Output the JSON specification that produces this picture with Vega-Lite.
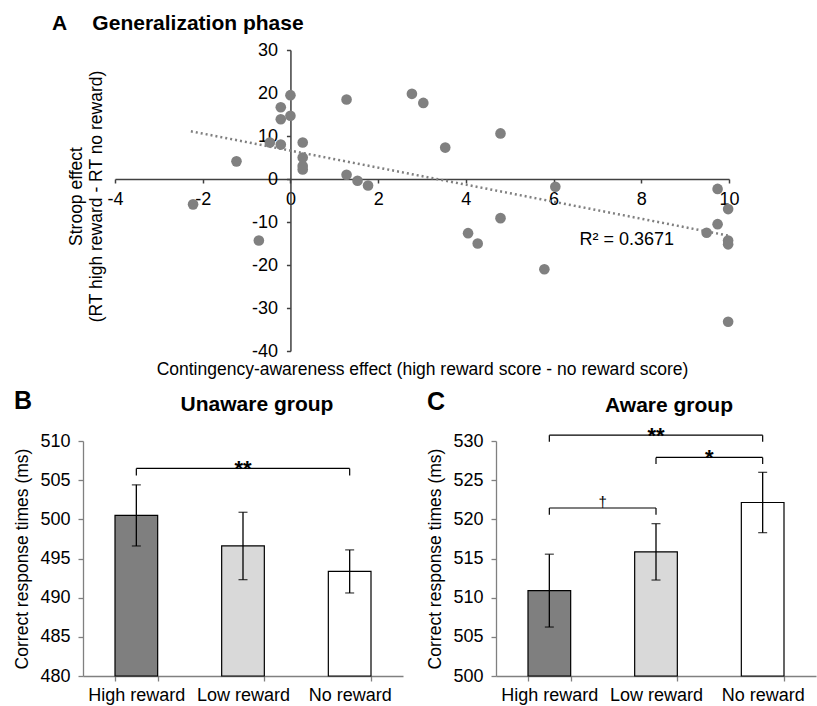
{
  "$schema": "https://vega.github.io/schema/vega-lite/v6.json",
  "padding": {"left": 12, "top": 13, "right": 1, "bottom": 1},
  "background": "white",
  "spacing": 11,
  "config": {
    "font": "Liberation Sans",
    "view": {"stroke": null},
    "axis": {"grid": false, "labelColor": "black", "titleColor": "black", "titleFontWeight": "normal", "labelFont": "Liberation Sans", "titleFont": "Liberation Sans", "labelFontSize": 18, "titleFontSize": 17.5, "labelOverlap": false, "labelFlush": false, "domainColor": "#808080", "tickColor": "#808080", "domainWidth": 1.3, "tickWidth": 1.3},
    "title": {"color": "black", "font": "Liberation Sans"}
  },
  "datasets": {
    "points": [
      {"awareness": 0.0, "stroop": 19.5}, {"awareness": -0.22, "stroop": 16.7}, {"awareness": -0.22, "stroop": 13.9},
      {"awareness": 0.0, "stroop": 14.7}, {"awareness": -0.47, "stroop": 8.5}, {"awareness": -0.22, "stroop": 8.0},
      {"awareness": 0.28, "stroop": 8.5}, {"awareness": 0.28, "stroop": 5.0}, {"awareness": 0.28, "stroop": 3.0},
      {"awareness": 0.28, "stroop": 2.2}, {"awareness": -1.23, "stroop": 4.1}, {"awareness": 1.28, "stroop": 18.5},
      {"awareness": 1.28, "stroop": 1.0}, {"awareness": 1.53, "stroop": -0.4}, {"awareness": 1.77, "stroop": -1.5},
      {"awareness": 2.77, "stroop": 19.8}, {"awareness": 3.03, "stroop": 17.7}, {"awareness": 3.53, "stroop": 7.3},
      {"awareness": 4.79, "stroop": 10.6}, {"awareness": 6.04, "stroop": -1.8}, {"awareness": 9.74, "stroop": -2.3},
      {"awareness": -2.22, "stroop": -5.9}, {"awareness": -0.72, "stroop": -14.3}, {"awareness": 4.79, "stroop": -9.1},
      {"awareness": 4.05, "stroop": -12.6}, {"awareness": 4.27, "stroop": -15.0}, {"awareness": 5.79, "stroop": -21.0},
      {"awareness": 9.98, "stroop": -7.0}, {"awareness": 9.74, "stroop": -10.5}, {"awareness": 9.49, "stroop": -12.5},
      {"awareness": 9.98, "stroop": -14.3}, {"awareness": 9.98, "stroop": -15.2}, {"awareness": 9.98, "stroop": -33.2}
    ],
    "trend": [{"awareness": -2.27, "stroop": 11.1}, {"awareness": 10, "stroop": -13.2}],
    "rsq": [{"awareness": 6.59, "stroop": -14.2, "label": "R² = 0.3671"}],
    "unaware": [
      {"condition": "High reward", "mean": 500.5, "se": 3.9},
      {"condition": "Low reward", "mean": 496.6, "se": 4.3},
      {"condition": "No reward", "mean": 493.35, "se": 2.75}
    ],
    "aware": [
      {"condition": "High reward", "mean": 510.9, "se": 4.65},
      {"condition": "Low reward", "mean": 515.85, "se": 3.6},
      {"condition": "No reward", "mean": 522.15, "se": 3.85}
    ],
    "unawareSig": [
      {"from": "High reward", "to": "No reward", "top": 506.5, "bottom": 505.6, "label": "**", "at": "Low reward", "between": false}
    ],
    "awareSig": [
      {"from": "High reward", "to": "No reward", "top": 530.75, "bottom": 529.9, "label": "**", "at": "Low reward", "between": false},
      {"from": "Low reward", "to": "No reward", "top": 527.9, "bottom": 527.05, "label": "*", "at": "Low reward", "between": true},
      {"from": "High reward", "to": "Low reward", "top": 521.45, "bottom": 520.6, "label": "†", "at": "High reward", "between": true}
    ]
  },
  "vconcat": [
    {
      "spacing": 0,
      "hconcat": [
        {"width": 40, "height": 1, "data": {"values": []}, "mark": "point"},
        {
          "width": 614,
          "height": 301,
          "title": {"text": "A\u2003\u2009Generalization phase", "anchor": "start", "frame": "group", "dx": -63, "fontSize": 21, "fontWeight": "bold", "baseline": "alphabetic", "offset": -10},
          "resolve": {"axis": {"x": "independent", "y": "independent"}},
          "layer": [
            {
              "data": {"name": "points"},
              "mark": {"type": "circle", "size": 113, "color": "#808080", "opacity": 1},
              "encoding": {
                "x": {"field": "awareness", "type": "quantitative",
                  "scale": {"domain": [-4, 10], "nice": false, "zero": false},
                  "axis": {"orient": "bottom", "offset": -172, "values": [-4, -2, 0, 2, 4, 6, 8, 10], "labelExpr": "'' + datum.value", "tickSize": 4, "labelPadding": 7, "domainColor": "#404040", "domainWidth": 1.5, "tickColor": "#404040", "tickWidth": 1.5, "title": null}},
                "y": {"field": "stroop", "type": "quantitative",
                  "scale": {"domain": [-40, 30], "nice": false, "zero": false},
                  "axis": {"orient": "left", "labels": false, "ticks": false, "domain": false,
                    "title": ["Stroop effect", "(RT high reward - RT no reward)"], "titleLineHeight": 20, "titlePadding": 10, "titleY": 146}}
              }
            },
            {
              "data": {"name": "trend"},
              "mark": {"type": "line", "strokeDash": [2, 3], "color": "#808080", "strokeWidth": 2.5},
              "encoding": {
                "x": {"field": "awareness", "type": "quantitative",
                  "axis": {"orient": "bottom", "labels": false, "ticks": false, "domain": false,
                    "title": "Contingency-awareness effect (high reward score - no reward score)", "titlePadding": 9}},
                "y": {"field": "stroop", "type": "quantitative",
                  "axis": {"orient": "left", "offset": -175.43, "values": [-40, -30, -20, -10, 0, 10, 20, 30], "labelExpr": "'' + datum.value", "tickSize": 4, "labelPadding": 9, "domainColor": "#404040", "domainWidth": 1.5, "tickColor": "#404040", "tickWidth": 1.5, "title": null}}
              }
            },
            {
              "data": {"name": "rsq"},
              "mark": {"type": "text", "align": "left", "baseline": "middle", "fontSize": 18, "color": "black"},
              "encoding": {
                "x": {"field": "awareness", "type": "quantitative", "axis": null},
                "y": {"field": "stroop", "type": "quantitative", "axis": null},
                "text": {"field": "label"}
              }
            }
          ]
        }
      ]
    },
    {
      "spacing": 0,
      "hconcat": [
        {"width": 1, "height": 1, "data": {"values": []}, "mark": "point"},
        {
          "spacing": 23,
          "hconcat": [
            {
              "title": {"text": "B", "anchor": "start", "frame": "bounds", "fontSize": 25, "fontWeight": "bold", "baseline": "alphabetic", "offset": -40},
              "vconcat": [
                {
                  "width": 320,
                  "height": 235,
                  "title": {"text": "Unaware group", "anchor": "middle", "frame": "group", "dx": 14, "fontSize": 21, "fontWeight": "bold", "baseline": "alphabetic", "offset": 0},
                  "layer": [
                    {
                      "data": {"name": "unaware"},
                      "mark": {"type": "bar", "stroke": "black", "strokeWidth": 1.2},
                      "encoding": {
                        "x": {"field": "condition", "type": "nominal", "title": null,
                          "scale": {"domain": ["High reward", "Low reward", "No reward"], "paddingInner": 0.6, "paddingOuter": 0.3},
                          "axis": {"tickBand": "extent", "tickSize": 5, "labelPadding": 5, "labelAngle": 0}},
                        "y": {"field": "mean", "type": "quantitative", "title": "Correct response times (ms)",
                          "scale": {"domain": [480, 510], "nice": false, "zero": false},
                          "axis": {"values": [480, 485, 490, 495, 500, 505, 510], "tickSize": 5, "labelPadding": 8, "titlePadding": 8}},
                        "y2": {"datum": 480},
                        "fill": {"field": "condition", "type": "nominal", "legend": null,
                          "scale": {"domain": ["High reward", "Low reward", "No reward"], "range": ["#7f7f7f", "#d9d9d9", "#ffffff"]}}
                      }
                    },
                    {
                      "data": {"name": "unaware"},
                      "mark": {"type": "errorbar", "color": "black", "thickness": 1.3, "size": 9, "ticks": true},
                      "encoding": {
                        "x": {"field": "condition", "type": "nominal", "title": null, "scale": {"domain": ["High reward", "Low reward", "No reward"]},
                          "axis": {"tickBand": "extent", "tickSize": 5, "labelPadding": 5, "labelAngle": 0}},
                        "y": {"field": "mean", "type": "quantitative", "title": "Correct response times (ms)",
                          "axis": {"values": [480, 485, 490, 495, 500, 505, 510], "tickSize": 5, "labelPadding": 8, "titlePadding": 8}},
                        "yError": {"field": "se"}
                      }
                    },
                    {
                      "data": {"name": "unawareSig"},
                      "mark": {"type": "rule", "color": "black", "strokeWidth": 1.2},
                      "encoding": {
                        "x": {"field": "from", "type": "nominal", "title": null, "scale": {"domain": ["High reward", "Low reward", "No reward"]},
                          "axis": {"tickBand": "extent", "tickSize": 5, "labelPadding": 5, "labelAngle": 0}},
                        "x2": {"field": "to"},
                        "y": {"field": "top", "type": "quantitative", "title": "Correct response times (ms)",
                          "axis": {"values": [480, 485, 490, 495, 500, 505, 510], "tickSize": 5, "labelPadding": 8, "titlePadding": 8}}
                      }
                    },
                    {
                      "data": {"name": "unawareSig"},
                      "mark": {"type": "rule", "color": "black", "strokeWidth": 1.2},
                      "encoding": {
                        "x": {"field": "from", "type": "nominal", "title": null, "scale": {"domain": ["High reward", "Low reward", "No reward"]},
                          "axis": {"tickBand": "extent", "tickSize": 5, "labelPadding": 5, "labelAngle": 0}},
                        "y": {"field": "top", "type": "quantitative", "title": "Correct response times (ms)",
                          "axis": {"values": [480, 485, 490, 495, 500, 505, 510], "tickSize": 5, "labelPadding": 8, "titlePadding": 8}},
                        "y2": {"field": "bottom"}
                      }
                    },
                    {
                      "data": {"name": "unawareSig"},
                      "mark": {"type": "rule", "color": "black", "strokeWidth": 1.2},
                      "encoding": {
                        "x": {"field": "to", "type": "nominal", "title": null, "scale": {"domain": ["High reward", "Low reward", "No reward"]},
                          "axis": {"tickBand": "extent", "tickSize": 5, "labelPadding": 5, "labelAngle": 0}},
                        "y": {"field": "top", "type": "quantitative", "title": "Correct response times (ms)",
                          "axis": {"values": [480, 485, 490, 495, 500, 505, 510], "tickSize": 5, "labelPadding": 8, "titlePadding": 8}},
                        "y2": {"field": "bottom"}
                      }
                    },
                    {
                      "data": {"name": "unawareSig"},
                      "mark": {"type": "text", "fontSize": 22, "fontWeight": "bold", "baseline": "alphabetic", "dy": 8, "color": "black"},
                      "encoding": {
                        "x": {"field": "at", "type": "nominal", "title": null, "scale": {"domain": ["High reward", "Low reward", "No reward"]},
                          "axis": {"tickBand": "extent", "tickSize": 5, "labelPadding": 5, "labelAngle": 0}},
                        "y": {"field": "top", "type": "quantitative", "title": "Correct response times (ms)",
                          "axis": {"values": [480, 485, 490, 495, 500, 505, 510], "tickSize": 5, "labelPadding": 8, "titlePadding": 8}},
                        "text": {"field": "label"}
                      }
                    }
                  ]
                }
              ]
            },
            {
              "title": {"text": "C", "anchor": "start", "frame": "bounds", "fontSize": 25, "fontWeight": "bold", "baseline": "alphabetic", "offset": -40},
              "vconcat": [
                {
                  "width": 320,
                  "height": 235,
                  "title": {"text": "Aware group", "anchor": "middle", "frame": "group", "dx": 13, "fontSize": 21, "fontWeight": "bold", "baseline": "alphabetic", "offset": -8},
                  "layer": [
                    {
                      "data": {"name": "aware"},
                      "mark": {"type": "bar", "stroke": "black", "strokeWidth": 1.2},
                      "encoding": {
                        "x": {"field": "condition", "type": "nominal", "title": null,
                          "scale": {"domain": ["High reward", "Low reward", "No reward"], "paddingInner": 0.6, "paddingOuter": 0.3},
                          "axis": {"tickBand": "extent", "tickSize": 5, "labelPadding": 5, "labelAngle": 0}},
                        "y": {"field": "mean", "type": "quantitative", "title": "Correct response times (ms)",
                          "scale": {"domain": [500, 530], "nice": false, "zero": false},
                          "axis": {"values": [500, 505, 510, 515, 520, 525, 530], "tickSize": 5, "labelPadding": 8, "titlePadding": 8}},
                        "y2": {"datum": 500},
                        "fill": {"field": "condition", "type": "nominal", "legend": null,
                          "scale": {"domain": ["High reward", "Low reward", "No reward"], "range": ["#7f7f7f", "#d9d9d9", "#ffffff"]}}
                      }
                    },
                    {
                      "data": {"name": "aware"},
                      "mark": {"type": "errorbar", "color": "black", "thickness": 1.3, "size": 9, "ticks": true},
                      "encoding": {
                        "x": {"field": "condition", "type": "nominal", "title": null, "scale": {"domain": ["High reward", "Low reward", "No reward"]},
                          "axis": {"tickBand": "extent", "tickSize": 5, "labelPadding": 5, "labelAngle": 0}},
                        "y": {"field": "mean", "type": "quantitative", "title": "Correct response times (ms)",
                          "axis": {"values": [500, 505, 510, 515, 520, 525, 530], "tickSize": 5, "labelPadding": 8, "titlePadding": 8}},
                        "yError": {"field": "se"}
                      }
                    },
                    {
                      "data": {"name": "awareSig"},
                      "mark": {"type": "rule", "color": "black", "strokeWidth": 1.2},
                      "encoding": {
                        "x": {"field": "from", "type": "nominal", "title": null, "scale": {"domain": ["High reward", "Low reward", "No reward"]},
                          "axis": {"tickBand": "extent", "tickSize": 5, "labelPadding": 5, "labelAngle": 0}},
                        "x2": {"field": "to"},
                        "y": {"field": "top", "type": "quantitative", "title": "Correct response times (ms)",
                          "axis": {"values": [500, 505, 510, 515, 520, 525, 530], "tickSize": 5, "labelPadding": 8, "titlePadding": 8}}
                      }
                    },
                    {
                      "data": {"name": "awareSig"},
                      "mark": {"type": "rule", "color": "black", "strokeWidth": 1.2},
                      "encoding": {
                        "x": {"field": "from", "type": "nominal", "title": null, "scale": {"domain": ["High reward", "Low reward", "No reward"]},
                          "axis": {"tickBand": "extent", "tickSize": 5, "labelPadding": 5, "labelAngle": 0}},
                        "y": {"field": "top", "type": "quantitative", "title": "Correct response times (ms)",
                          "axis": {"values": [500, 505, 510, 515, 520, 525, 530], "tickSize": 5, "labelPadding": 8, "titlePadding": 8}},
                        "y2": {"field": "bottom"}
                      }
                    },
                    {
                      "data": {"name": "awareSig"},
                      "mark": {"type": "rule", "color": "black", "strokeWidth": 1.2},
                      "encoding": {
                        "x": {"field": "to", "type": "nominal", "title": null, "scale": {"domain": ["High reward", "Low reward", "No reward"]},
                          "axis": {"tickBand": "extent", "tickSize": 5, "labelPadding": 5, "labelAngle": 0}},
                        "y": {"field": "top", "type": "quantitative", "title": "Correct response times (ms)",
                          "axis": {"values": [500, 505, 510, 515, 520, 525, 530], "tickSize": 5, "labelPadding": 8, "titlePadding": 8}},
                        "y2": {"field": "bottom"}
                      }
                    },
                    {
                      "data": {"name": "awareSig"},
                      "transform": [{"filter": "datum.between == false"}],
                      "mark": {"type": "text", "fontSize": 22, "fontWeight": "bold", "baseline": "alphabetic", "dy": 8, "color": "black"},
                      "encoding": {
                        "x": {"field": "at", "type": "nominal", "title": null, "scale": {"domain": ["High reward", "Low reward", "No reward"]},
                          "axis": {"tickBand": "extent", "tickSize": 5, "labelPadding": 5, "labelAngle": 0}},
                        "y": {"field": "top", "type": "quantitative", "title": "Correct response times (ms)",
                          "axis": {"values": [500, 505, 510, 515, 520, 525, 530], "tickSize": 5, "labelPadding": 8, "titlePadding": 8}},
                        "text": {"field": "label"}
                      }
                    },
                    {
                      "data": {"name": "awareSig"},
                      "transform": [{"filter": "datum.label == '*'"}],
                      "mark": {"type": "text", "fontSize": 22, "fontWeight": "bold", "baseline": "alphabetic", "dy": 8, "dx": 53.3, "color": "black"},
                      "encoding": {
                        "x": {"field": "at", "type": "nominal", "title": null, "scale": {"domain": ["High reward", "Low reward", "No reward"]},
                          "axis": {"tickBand": "extent", "tickSize": 5, "labelPadding": 5, "labelAngle": 0}},
                        "y": {"field": "top", "type": "quantitative", "title": "Correct response times (ms)",
                          "axis": {"values": [500, 505, 510, 515, 520, 525, 530], "tickSize": 5, "labelPadding": 8, "titlePadding": 8}},
                        "text": {"field": "label"}
                      }
                    },
                    {
                      "data": {"name": "awareSig"},
                      "transform": [{"filter": "datum.label == '†'"}],
                      "mark": {"type": "text", "fontSize": 15, "baseline": "alphabetic", "dy": -1, "dx": 53.3, "color": "black"},
                      "encoding": {
                        "x": {"field": "at", "type": "nominal", "title": null, "scale": {"domain": ["High reward", "Low reward", "No reward"]},
                          "axis": {"tickBand": "extent", "tickSize": 5, "labelPadding": 5, "labelAngle": 0}},
                        "y": {"field": "top", "type": "quantitative", "title": "Correct response times (ms)",
                          "axis": {"values": [500, 505, 510, 515, 520, 525, 530], "tickSize": 5, "labelPadding": 8, "titlePadding": 8}},
                        "text": {"field": "label"}
                      }
                    }
                  ]
                }
              ]
            }
          ]
        }
      ]
    }
  ]
}
